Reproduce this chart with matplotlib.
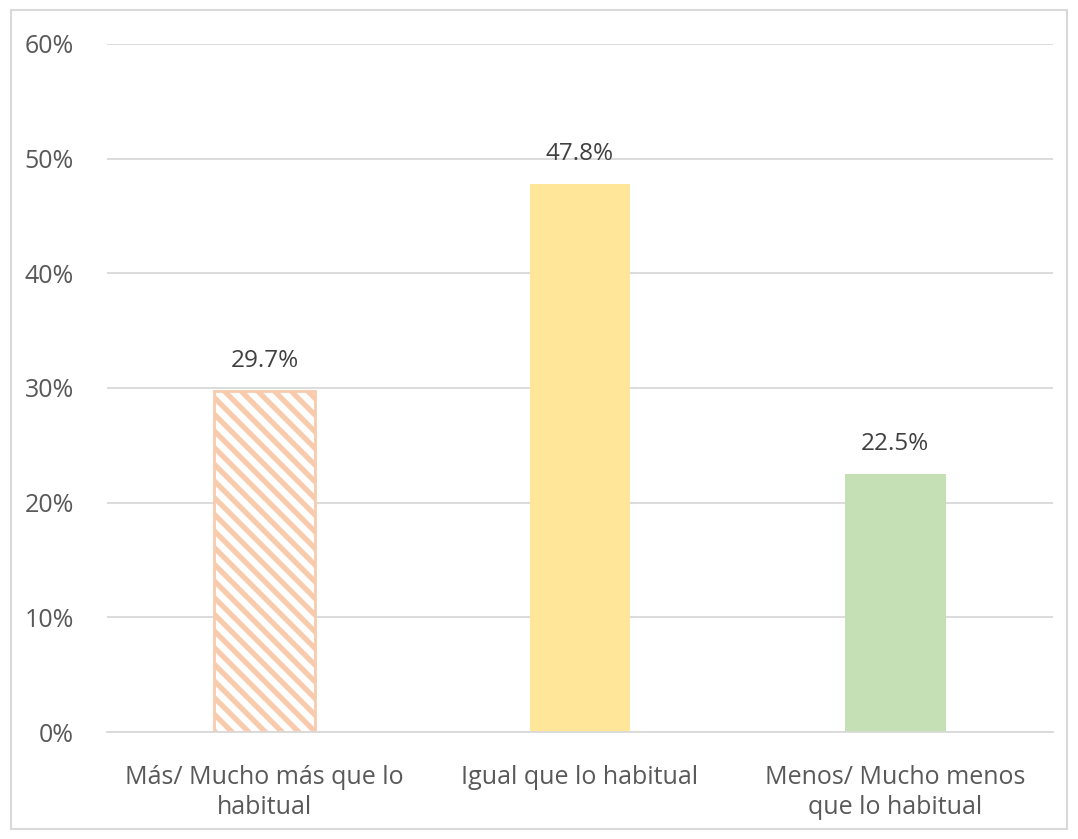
import matplotlib.pyplot as plt
from matplotlib.patches import Rectangle
from matplotlib.ticker import PercentFormatter

categories = ["Más/ Mucho más que lo\nhabitual", "Igual que lo habitual", "Menos/ Mucho menos\nque lo habitual"]
values = [29.7, 47.8, 22.5]
colors = ["white", "#FFE699", "#C5E0B4"]

plt.rcParams["font.family"] = ["Open Sans", "DejaVu Sans"]
plt.rcParams["hatch.color"] = "#F8CBAD"
plt.rcParams["hatch.linewidth"] = 3.8

fig = plt.figure(figsize=(10.78, 8.39), dpi=100)
ax = fig.add_axes([0.0993, 0.1275, 0.8775, 0.8201])

x = range(len(categories))
bars = ax.bar(x, values, width=0.32, color=colors, zorder=2)
bars[0].set_hatch("\\\\")
bars[0].set_edgecolor("#F8CBAD")
bars[0].set_linewidth(2)

for b, v in zip(bars, values):
    ax.text(b.get_x() + b.get_width() / 2, v + 1.6, f"{v:.1f}%", ha="center", va="bottom",
            fontsize=17.5, color="#404040")

ax.set_xlim(-0.5, 2.5)
ax.set_ylim(0, 60)
ax.set_yticks(range(0, 61, 10))
ax.yaxis.set_major_formatter(PercentFormatter(decimals=0))
ax.set_xticks(list(x))
ax.set_xticklabels(categories, linespacing=1.25)
ax.tick_params(axis="both", length=0, labelsize=18, colors="#595959")
ax.tick_params(axis="y", pad=24)
ax.tick_params(axis="x", pad=24)
ax.grid(axis="y", color="#D9D9D9", linewidth=1.3, zorder=0)
for s in ["top", "right", "left"]:
    ax.spines[s].set_visible(False)
ax.spines["bottom"].set_color("#D9D9D9")
ax.spines["bottom"].set_linewidth(1.3)

fig.patches.append(Rectangle((0.01, 0.012), 0.98, 0.976, transform=fig.transFigure,
                             fill=False, edgecolor="#D9D9D9", linewidth=1.5))

fig.savefig("out.png", dpi=100)
